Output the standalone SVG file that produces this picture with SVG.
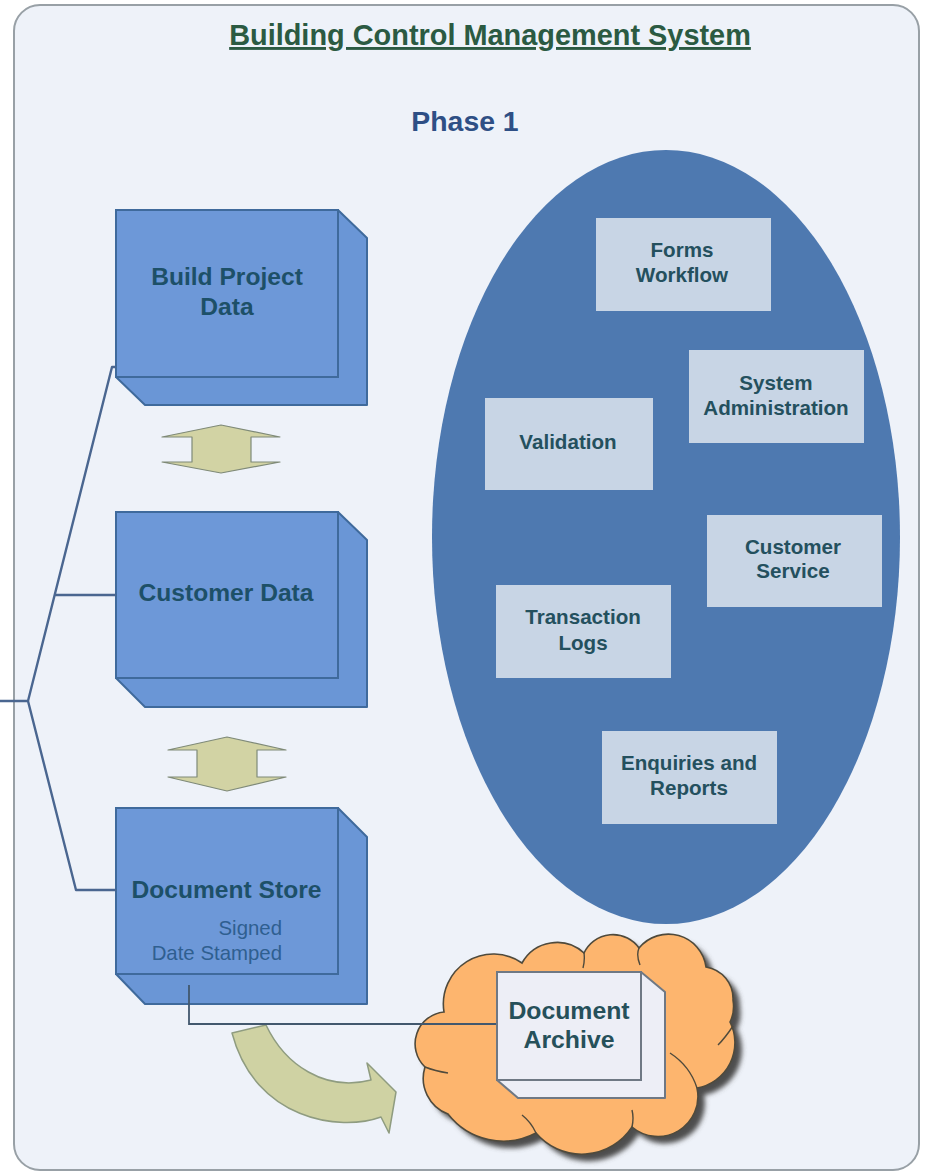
<svg xmlns="http://www.w3.org/2000/svg" width="927" height="1173" viewBox="0 0 927 1173">
<style>
text{font-family:"Liberation Sans",Arial,sans-serif;text-anchor:middle}
.face{fill:#6d98d8;stroke:#3f6a9c;stroke-width:2}
.side{fill:#6a96d6;stroke:#3f6a9c;stroke-width:2;stroke-linejoin:round}
.h{font-weight:bold;font-size:24.6px;fill:#1d5068}
.s{font-size:20.4px;fill:#2f5f90;text-anchor:end}
.t{fill:#c8d5e5}
.l{font-weight:bold;font-size:20.6px;fill:#24505e}
.dbl{fill:#d2d3a4;stroke:#7f8a78;stroke-width:1.2;stroke-linejoin:round}
.c{fill:none;stroke:#4a6690;stroke-width:2.4;stroke-linejoin:round}
</style>
<defs>
<filter id="sh" x="-10%" y="-10%" width="120%" height="120%"><feGaussianBlur stdDeviation="2.5"/></filter>
<path id="cl" d="M444,1012 A50,50 0 0 1 522,963 A40,40 0 0 1 584,953 A32,32 0 0 1 639,948 A38,38 0 0 1 706,967 A32,32 0 0 1 733,1000 Q735,1012 730,1022 A46,46 0 0 1 697,1088 A40,40 0 0 1 632,1127 A60,60 0 0 1 536,1133 A70,70 0 0 1 448,1114 A38,38 0 0 1 425,1067 A32,32 0 0 1 444,1012 Z"/>
</defs>
<rect id="bg" width="927" height="1173" fill="#ffffff"/>
<rect id="panel" x="14" y="5" width="905" height="1165" rx="26" fill="#eef2f9" stroke="#98a0a6" stroke-width="2"/>
<text id="title" x="490" y="45" font-size="28.9" font-weight="bold" fill="#2b5a42" text-decoration="underline">Building Control Management System</text>
<text id="phase" x="465" y="131" font-size="28.4" font-weight="bold" fill="#2e4f85">Phase 1</text>

<g id="ellipse-group">
<ellipse cx="666" cy="537" rx="234" ry="387" fill="#4e79b0"/>
</g>
<g id="n-forms"><rect class="t" x="596" y="218" width="175" height="93"/><text class="l" x="682" y="257">Forms</text><text class="l" x="682" y="282">Workflow</text></g>
<g id="n-system"><rect class="t" x="689" y="350" width="175" height="93"/><text class="l" x="776" y="390">System</text><text class="l" x="776" y="415">Administration</text></g>
<g id="n-validation"><rect class="t" x="485" y="398" width="168" height="92"/><text class="l" x="568" y="449">Validation</text></g>
<g id="n-customer"><rect class="t" x="707" y="515" width="175" height="92"/><text class="l" x="793" y="554">Customer</text><text class="l" x="793" y="578">Service</text></g>
<g id="n-logs"><rect class="t" x="496" y="585" width="175" height="93"/><text class="l" x="583" y="624">Transaction</text><text class="l" x="583" y="650">Logs</text></g>
<g id="n-enquiries"><rect class="t" x="602" y="731" width="175" height="93"/><text class="l" x="689" y="770">Enquiries and</text><text class="l" x="689" y="795">Reports</text></g>

<g id="n-build">
<path class="side" d="M338,210 L367,238 V405 H145 L116,377 H338 Z"/>
<rect class="face" x="116" y="210" width="222" height="167"/>
<text class="h" x="227" y="285">Build Project</text><text class="h" x="227" y="315">Data</text>
</g>
<g id="n-customerdata">
<path class="side" d="M338,512 L367,540 V707 H145 L116,678 H338 Z"/>
<rect class="face" x="116" y="512" width="222" height="166"/>
<text class="h" x="226" y="601">Customer Data</text>
</g>
<g id="n-docstore">
<path class="side" d="M338,808 L367,837 V1004 H145 L116,974 H338 Z"/>
<rect class="face" x="116" y="808" width="222" height="166"/>
<text class="h" x="226.500" y="898">Document Store</text>
<text class="s" x="282" y="935">Signed</text><text class="s" x="282" y="960">Date Stamped</text>
</g>

<g id="a-double-1"><path class="dbl" d="M221,425 L280,437 H251 V462 H280 L221,473 L162,462 H192 V437 H162 Z"/></g>
<g id="a-double-2"><path class="dbl" d="M227,737 L286,750 H257 V777 H286 L227,791 L168,777 H197 V750 H168 Z"/></g>
<g id="a-curved"><path d="M232,1033 L266,1025 C285,1065 325,1092 371,1080 L367,1063 L396,1092 L389,1133 L381,1117 C340,1132 255,1120 232,1033 Z" fill="#cfd2a3" stroke="#8f9c80" stroke-width="1.500" stroke-linejoin="round"/></g>

<g id="n-cloud">
<use href="#cl" transform="translate(7,7)" fill="#4d4d4d" filter="url(#sh)"/>
<use href="#cl" fill="#fdb56e" stroke="#4f4a3c" stroke-width="1.600"/>
<path d="M425,1067 Q435,1071 448,1073 M697,1088 Q690,1066 670,1053 M718,1045 Q725,1038 733,1026 M584,953 Q585,960 583,968 M639,948 Q636,955 640,965 M632,1127 Q634,1118 632,1110 M536,1133 Q531,1122 522,1115" fill="none" stroke="#4f4a3c" stroke-width="1.400"/>
</g>
<g id="connectors">
<path class="c" d="M0,701 H28 L112,367 H116 M55,595 H116 M28,701 L76,890 H116"/>
<path d="M189,985 V1024 H497" fill="none" stroke="#42586e" stroke-width="1.800"/>
</g>
<g id="n-archive">
<path d="M641,972 L665,992 V1098 H518 L497,1080 H641 Z" fill="#edeef6" stroke="#6f7884" stroke-width="2" stroke-linejoin="round"/>
<rect x="497" y="972" width="144" height="108" fill="#edeef6" stroke="#6f7884" stroke-width="2"/>
<text x="569" y="1019" font-size="24.800" font-weight="bold" fill="#26505a">Document</text>
<text x="569" y="1048" font-size="24.800" font-weight="bold" fill="#26505a">Archive</text>
</g>
</svg>
